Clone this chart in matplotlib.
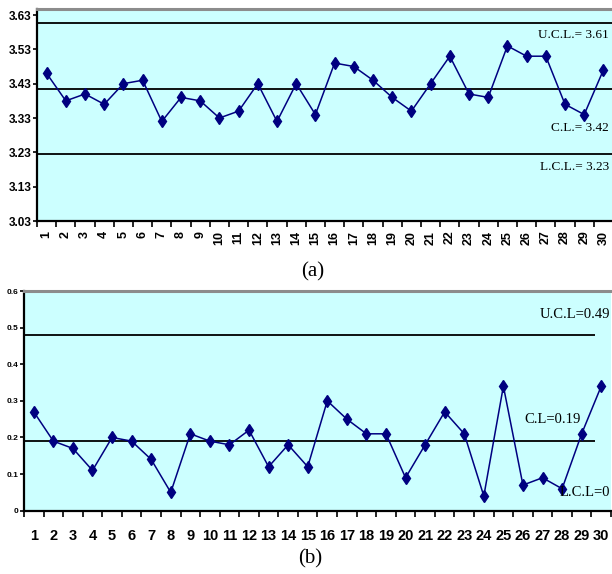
import matplotlib
matplotlib.use("Agg")
import matplotlib.pyplot as plt
from matplotlib.ticker import FixedLocator, NullFormatter

# chart (a): sample means
samples = list(range(1, 31))
mean_vals = [3.46, 3.38, 3.40, 3.37, 3.43, 3.44, 3.32, 3.39, 3.38, 3.33,
             3.35, 3.43, 3.32, 3.43, 3.34, 3.49, 3.48, 3.44, 3.39, 3.35,
             3.43, 3.51, 3.40, 3.39, 3.54, 3.51, 3.51, 3.37, 3.34, 3.47]
a_limits = {"ucl": 3.606, "cl": 3.415, "lcl": 3.225}
a_labels = ["U.C.L.= 3.61", "C.L.= 3.42", "L.C.L.= 3.23"]
a_yticks = [3.03, 3.13, 3.23, 3.33, 3.43, 3.53, 3.63]

# chart (b): ranges
range_vals = [0.27, 0.19, 0.17, 0.11, 0.20, 0.19, 0.14, 0.05, 0.21, 0.19,
              0.18, 0.22, 0.12, 0.18, 0.12, 0.30, 0.25, 0.21, 0.21, 0.09,
              0.18, 0.27, 0.21, 0.04, 0.34, 0.07, 0.09, 0.06, 0.21, 0.34]
b_limits = {"ucl": 0.481, "cl": 0.19, "lcl": 0.0}
b_labels = ["U.C.L=0.49", "C.L=0.19", "L.C.L=0"]
b_yticks = [0, 0.1, 0.2, 0.3, 0.4, 0.5, 0.6]
b_yticklabels = ["0", "0.1", "0.2", "0.3", "0.4", "0.5", "0.6"]

BG = "#ccffff"
NAVY = "#000080"
TICKFONT = ["Liberation Sans", "DejaVu Sans"]
SERIF = ["Liberation Serif", "DejaVu Serif"]

W, H = 612, 574
fig = plt.figure(figsize=(W / 100, H / 100), dpi=100)
fig.patch.set_facecolor("white")


def style_axes(ax, ymin, ymax, yticks, yticklabels, ysize, xsize, xrot):
    ax.set_facecolor(BG)
    ax.set_xlim(0.5, 30.5)
    ax.set_ylim(ymin, ymax)
    ax.spines["right"].set_visible(False)
    ax.spines["top"].set_color("#8c8c8c")
    ax.spines["top"].set_linewidth(2.2)
    ax.spines["left"].set_linewidth(1.6)
    ax.spines["bottom"].set_linewidth(1.6)
    ax.set_yticks(yticks)
    ax.set_yticklabels(yticklabels, fontfamily=TICKFONT, fontweight="bold",
                       fontsize=ysize)
    ax.tick_params(axis="y", length=3, width=1.2, pad=1)
    ax.set_xticks(samples)
    ax.set_xticklabels([str(s) for s in samples], fontfamily=TICKFONT,
                       fontweight="bold", fontsize=xsize, rotation=xrot)
    ax.tick_params(axis="x", which="major", length=0, pad=7)
    ax.xaxis.set_minor_locator(FixedLocator([i + 0.5 for i in range(0, 31)]))
    ax.xaxis.set_minor_formatter(NullFormatter())
    ax.tick_params(axis="x", which="minor", length=4, width=1.2)


# ---- (a)
ax1 = fig.add_axes([37 / W, (H - 221) / H, 576 / W, 212 / H])
style_axes(ax1, 3.03, 3.6475, a_yticks, [f"{t:.2f}" for t in a_yticks],
           8.5, 9, 90)
for key in ["ucl", "cl", "lcl"]:
    ax1.axhline(a_limits[key], color="black", linewidth=1.3)
ax1.plot(samples, mean_vals, color=NAVY, linewidth=1.1, marker="d",
         markersize=6.5, markerfacecolor=NAVY, markeredgecolor=NAVY)
xr = 609 / W
for lab, ypx in zip(a_labels, [35, 128, 167]):
    fig.text(xr, 1 - ypx / H, lab, fontfamily=SERIF, fontsize=9.5,
             va="center", ha="right")
fig.text(313 / W, 1 - 272 / H, "(a)", fontfamily=SERIF, fontsize=15,
         ha="center", va="center")

# ---- (b)
ax2 = fig.add_axes([24 / W, 63.3 / H, 587 / W, 219.7 / H])
style_axes(ax2, 0, 0.6, b_yticks, b_yticklabels, 6, 10.5, 0)
ax2.tick_params(axis="x", which="major", pad=13)
ax2.hlines([b_limits["ucl"], b_limits["cl"], b_limits["lcl"]], 0.5, 29.7,
           color="black", linewidth=1.3)
ax2.plot(samples, range_vals, color=NAVY, linewidth=1.1, marker="d",
         markersize=6.5, markerfacecolor=NAVY, markeredgecolor=NAVY,
         clip_on=False)
ax2.text(26.88, 0.536, b_labels[0], fontfamily=SERIF, fontsize=10.5,
         va="center", ha="left")
ax2.text(26.06, 0.248, b_labels[1], fontfamily=SERIF, fontsize=10.5,
         va="center", ha="left")
fig.text(610 / W, 1 - 493 / H, b_labels[2], fontfamily=SERIF, fontsize=10.5,
         va="center", ha="right")
fig.text(310 / W, 1 - 559 / H, "(b)", fontfamily=SERIF, fontsize=15,
         ha="center", va="center")

fig.savefig("out.png", dpi=100, facecolor="white")
